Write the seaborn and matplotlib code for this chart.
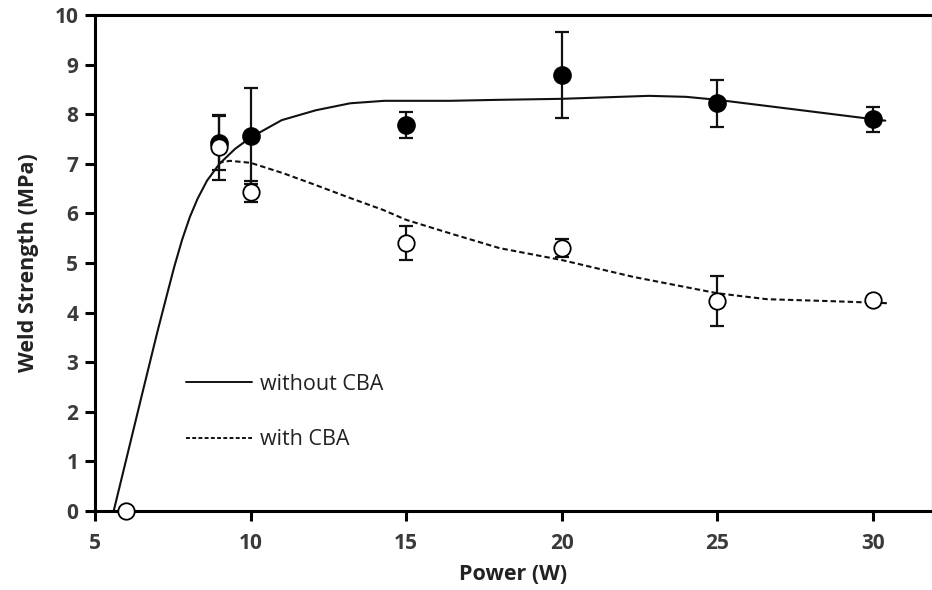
import numpy as np
import pandas as pd
import seaborn as sns
import matplotlib.pyplot as plt
from matplotlib.lines import Line2D

# Measured points (Power in W, Weld strength in MPa)
power = [9, 10, 15, 20, 25, 30]
strength_no_cba = [7.42, 7.56, 7.78, 8.79, 8.22, 7.90]
err_no_cba = [0.55, 0.97, 0.26, 0.86, 0.47, 0.25]

power_cba = [6, 9, 10, 15, 20, 25, 30]
strength_cba = [0.0, 7.33, 6.44, 5.40, 5.30, 4.23, 4.25]
err_cba = [0.0, 0.66, 0.21, 0.34, 0.18, 0.51, 0.04]

# Fitted curves
fit_x_no_cba = [5.6, 6.0, 6.5, 7.0, 7.3, 7.55, 7.8, 8.05, 8.3, 8.6, 9.0, 9.5, 10.0, 11.0,
                12.1, 13.2, 14.3, 16.4, 18.0, 20.0, 22.8, 24.0, 25.0, 27.7, 30.0, 30.4]
fit_y_no_cba = [0.0, 1.03, 2.32, 3.6, 4.33, 4.93, 5.47, 5.93, 6.3, 6.66, 7.0, 7.3, 7.53,
                7.88, 8.08, 8.22, 8.27, 8.27, 8.29, 8.31, 8.37, 8.35, 8.29, 8.08, 7.90, 7.87]
fit_x_cba = [8.96, 9.34, 10.0, 11.05, 12.1, 13.2, 14.26, 15.0, 16.4, 18.0, 20.0,
             22.3, 25.0, 26.6, 28.7, 30.45]
fit_y_cba = [7.02, 7.06, 7.02, 6.81, 6.57, 6.31, 6.07, 5.87, 5.60, 5.30, 5.06,
             4.72, 4.39, 4.27, 4.23, 4.19]

sns.set_style("ticks")
plt.rcParams['font.family'] = ['Open Sans', 'DejaVu Sans']

fig = plt.figure(figsize=(9.32, 5.9), dpi=100)
ax = fig.add_axes([95 / 932, 1 - 511 / 590, 1 - 95 / 932, (511 - 15) / 590])

fit_a = pd.DataFrame({"x": fit_x_no_cba, "y": fit_y_no_cba})
fit_b = pd.DataFrame({"x": fit_x_cba, "y": fit_y_cba})
sns.lineplot(data=fit_a, x="x", y="y", ax=ax, color="#111111", lw=1.5, sort=False,
             zorder=2)
sns.lineplot(data=fit_b, x="x", y="y", ax=ax, color="#111111", lw=1.5, sort=False,
             linestyle=(0, (2.6, 1.5)), zorder=2)

# error bars
ax.errorbar(power, strength_no_cba, yerr=err_no_cba, fmt="none", ecolor="#111111",
            elinewidth=1.6, capsize=5, capthick=1.6, zorder=3)
ax.errorbar(power_cba, strength_cba, yerr=err_cba, fmt="none", ecolor="#111111",
            elinewidth=1.6, capsize=5, capthick=1.6, zorder=3)

sns.scatterplot(x=power, y=strength_no_cba, ax=ax, s=150, color="black",
                edgecolor="black", linewidth=1.2, zorder=4, clip_on=False)
sns.scatterplot(x=power_cba, y=strength_cba, ax=ax, s=140, color="white",
                edgecolor="black", linewidth=1.3, zorder=5, clip_on=False)

ax.set_xlim(5, 31.9)
ax.set_ylim(0, 10)
ax.set_xticks([5, 10, 15, 20, 25, 30])
ax.set_yticks(range(0, 11))

for side in ["left", "bottom", "top"]:
    ax.spines[side].set_linewidth(2.2)
    ax.spines[side].set_color("black")
ax.spines["right"].set_color("#d0d0d0")
ax.spines["right"].set_linewidth(1)
ax.tick_params(axis="both", direction="out", length=7, width=2.2, color="black",
               labelsize=15, labelcolor="#3a3a3a")
ax.tick_params(axis="x", pad=9)
ax.tick_params(axis="y", pad=5)
for lab in ax.get_xticklabels() + ax.get_yticklabels():
    lab.set_fontweight("bold")

ax.set_xlabel("Power (W)", fontsize=15.5, fontweight="bold", color="#222222", labelpad=7)
ax.set_ylabel("Weld Strength (MPa)", fontsize=15.5, fontweight="bold", color="#222222",
              labelpad=11)

handles = [Line2D([], [], color="#111111", lw=1.4),
           Line2D([], [], color="#111111", lw=1.4, linestyle=(0, (2, 1.2)))]
ax.legend(handles, ["without CBA", "with CBA"], frameon=False, loc="upper left",
          bbox_to_anchor=(0.1087, 0.277), borderaxespad=0, borderpad=0,
          handlelength=3.05, handletextpad=0.4, labelspacing=1.6, fontsize=15.5,
          labelcolor="#222222")

fig.savefig("out.png", dpi=100)
